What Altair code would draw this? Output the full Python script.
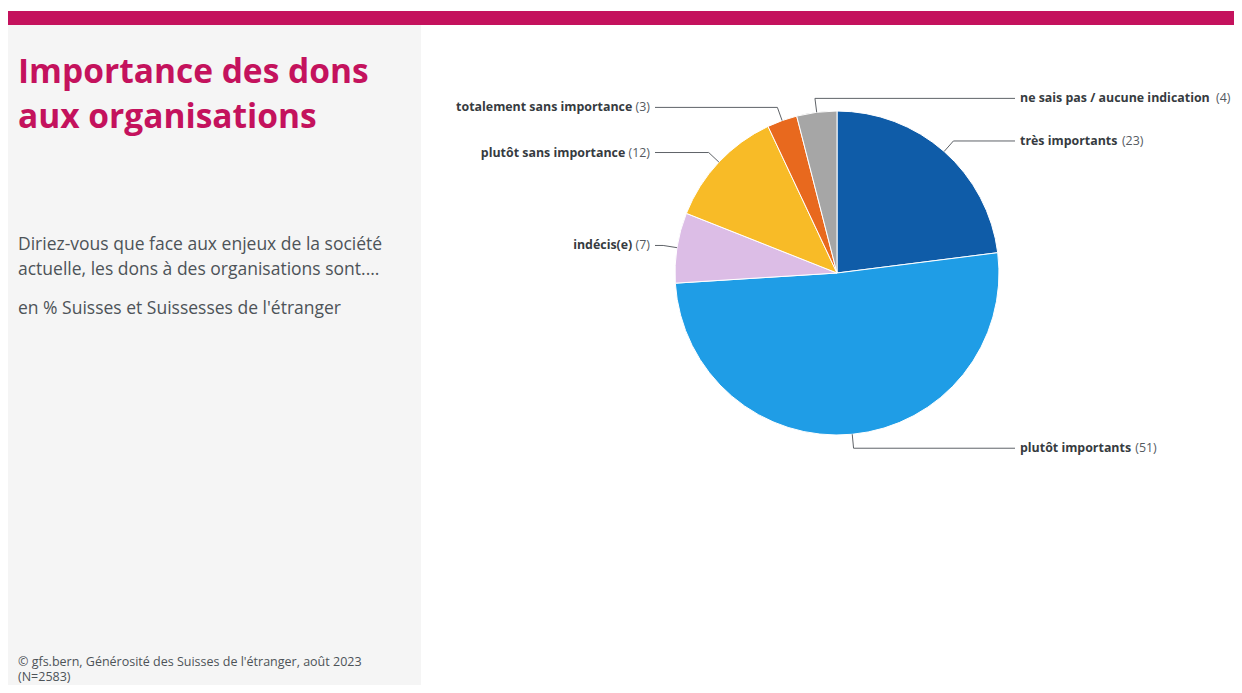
import math
import altair as alt
import pandas as pd

# ---------------- data ----------------
categories = [
    "très importants",
    "plutôt importants",
    "indécis(e)",
    "plutôt sans importance",
    "totalement sans importance",
    "ne sais pas / aucune indication",
]
values = [23, 51, 7, 12, 3, 4]
colors = ["#0f5ca8", "#1f9de6", "#dcbde6", "#f8bb27", "#e8691e", "#a6a6a6"]

title_lines = ["Importance des dons", "aux organisations"]
subtitle_lines = [
    "Diriez-vous que face aux enjeux de la société",
    "actuelle, les dons à des organisations sont....",
]
unit_line = "en % Suisses et Suissesses de l'étranger"
source_lines = [
    "© gfs.bern, Générosité des Suisses de l'étranger, août 2023",
    "(N=2583)",
]

# ---------------- layout ----------------
W, H = 1226, 677
CX, CY, R = 829, 265, 162
FONT = "Open Sans"
MAGENTA = "#c4125d"
LABEL_SIZE = 12.4

# approximate glyph widths (em) used to put the regular "(n)" next to the bold name
REG = dict(zip("abcdefghijklmnopqrstuvwxyz", [.556, .613, .480, .613, .561, .336, .547, .613, .258, .258, .525, .258, .930, .613, .604, .613, .613, .408, .477, .353, .613, .500, .775, .518, .500, .465]))
BOLD = dict(zip("abcdefghijklmnopqrstuvwxyz", [.608, .647, .528, .647, .612, .397, .571, .659, .306, .306, .621, .306, .984, .659, .631, .647, .647, .463, .520, .429, .659, .575, .856, .592, .575, .513]))
for d, extra in ((REG, {" ": .26, "(": .297, ")": .297, "/": .367, "é": .561, "è": .561, "ô": .604}),
                 (BOLD, {" ": .26, "(": .344, ")": .344, "/": .446, "é": .612, "è": .612, "ô": .631})):
    d.update(extra)
    for c in "0123456789":
        d[c] = .572


def text_width(s, table, size):
    return sum(table.get(c, .56) for c in s) * size


total = sum(values)
rows, line_rows = [], []
cum = 0
for i, (cat, v) in enumerate(zip(categories, values)):
    mid = (cum + v / 2) / total * 2 * math.pi
    cum += v
    s, c = math.sin(mid), math.cos(mid)
    right = s > -0.15
    ex, ey = CX + R * s, CY - R * c
    bx, by = CX + (R + 14) * s, CY - (R + 14) * c
    lx_end = CX + 178 if right else CX - 182
    tx = CX + 183 if right else CX - 187
    num = f"({v})"
    wn = text_width(cat, BOLD, LABEL_SIZE)
    wv = text_width(num, REG, LABEL_SIZE)
    gap = 0.26 * LABEL_SIZE
    if right:
        name_x = tx
        num_x = tx + wn + gap
    else:
        num_x = tx
        name_x = tx - wv - gap
    rows.append(dict(cat=cat, num=num, y=by, name_x=name_x, num_x=num_x,
                     side="right" if right else "left"))
    for k, (px, py) in enumerate([(ex, ey), (bx, by), (lx_end, by)]):
        line_rows.append(dict(cat=cat, seq=k, x=px, y=py))

lab = pd.DataFrame(rows)
lines = pd.DataFrame(line_rows)
df = pd.DataFrame({"cat": categories, "val": values, "order": list(range(len(values)))})

xs = alt.Scale(domain=[0, W], range=[0, W], nice=False, zero=False)
ys = alt.Scale(domain=[0, H], range=[0, H], nice=False, zero=False)
one = pd.DataFrame({"a": [0]})

band = alt.Chart(one).mark_rect(color=MAGENTA).encode(
    x=alt.value(0), x2=alt.value(W), y=alt.value(3), y2=alt.value(17))
panel = alt.Chart(one).mark_rect(color="#f5f5f5").encode(
    x=alt.value(0), x2=alt.value(413), y=alt.value(17), y2=alt.value(H))

TEXT_GREY = "#4d5358"


def static_text(text, y, size, color, weight="normal"):
    return alt.Chart(one).mark_text(
        text=text, align="left", baseline="alphabetic", font=FONT,
        fontSize=size, fontWeight=weight, color=color,
    ).encode(x=alt.value(10), y=alt.value(y))


texts = [
    static_text(title_lines[0], 75, 33.5, MAGENTA, "bold"),
    static_text(title_lines[1], 120, 33.5, MAGENTA, "bold"),
    static_text(subtitle_lines[0], 242, 17.5, TEXT_GREY),
    static_text(subtitle_lines[1], 267, 17.5, TEXT_GREY),
    static_text(unit_line, 306, 17.5, TEXT_GREY),
    static_text(source_lines[0], 658, 12.5, TEXT_GREY),
    static_text(source_lines[1], 673, 12.5, TEXT_GREY),
]

pie = alt.Chart(df).mark_arc(outerRadius=R, stroke="white", strokeWidth=1).encode(
    theta=alt.Theta("val:Q", stack=True),
    order=alt.Order("order:Q"),
    color=alt.Color("cat:N", scale=alt.Scale(domain=categories, range=colors), legend=None),
    x=alt.value(CX), y=alt.value(CY),
)

leaders = alt.Chart(lines).mark_line(color="#5f6368", strokeWidth=1).encode(
    x=alt.X("x:Q", scale=xs, axis=None),
    y=alt.Y("y:Q", scale=ys, axis=None),
    detail="cat:N",
    order="seq:Q",
)


def label_layer(side, field, textfield, align, weight, color):
    return alt.Chart(lab).transform_filter(alt.datum.side == side).mark_text(
        align=align, baseline="middle", font=FONT, fontSize=LABEL_SIZE,
        fontWeight=weight, color=color,
    ).encode(
        x=alt.X(f"{field}:Q", scale=xs, axis=None),
        y=alt.Y("y:Q", scale=ys, axis=None),
        text=f"{textfield}:N",
    )


labels = [
    label_layer("right", "name_x", "cat", "left", "bold", "#363b40"),
    label_layer("left", "name_x", "cat", "right", "bold", "#363b40"),
    label_layer("right", "num_x", "num", "left", "normal", "#555a5f"),
    label_layer("left", "num_x", "num", "right", "normal", "#555a5f"),
]

chart = alt.layer(
    band, panel, *texts, pie, leaders, *labels
).properties(
    width=W, height=H, padding=0, autosize=alt.AutoSizeParams(type="none"),
    background="white",
).configure_view(stroke=None)

chart.save("out.html", embed_options={"renderer": "svg", "actions": False})
